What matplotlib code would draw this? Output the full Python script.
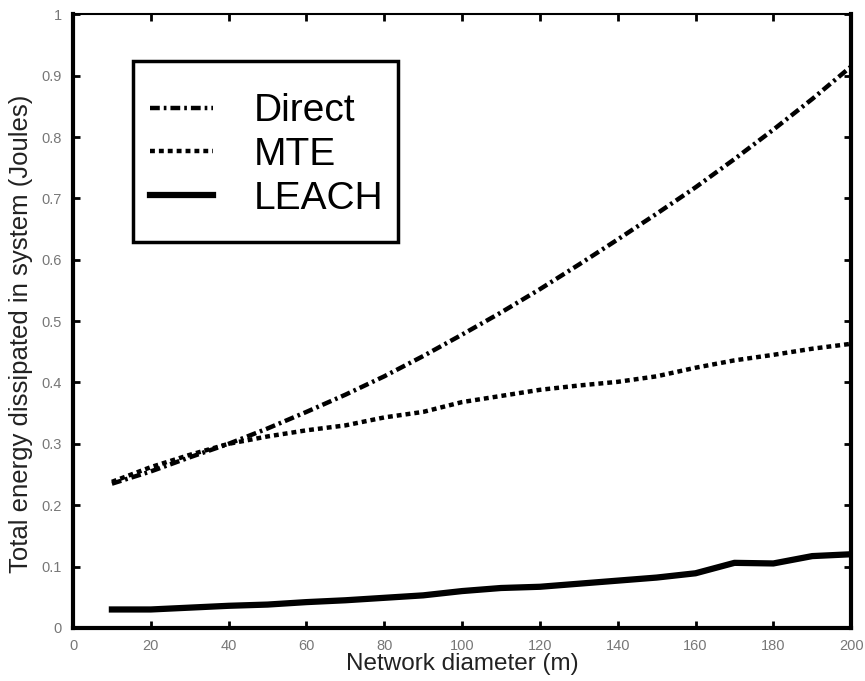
import matplotlib
matplotlib.use('Agg')
import matplotlib.pyplot as plt
from matplotlib.patches import Rectangle

plt.rcParams['font.family'] = ['Liberation Sans', 'DejaVu Sans']

# network diameter (m)
diameter = [10, 20, 30, 40, 50, 60, 70, 80, 90, 100, 110, 120, 130, 140, 150, 160, 170, 180, 190, 200]

direct = [0.235, 0.255, 0.278, 0.300, 0.325, 0.352, 0.380, 0.410, 0.443, 0.478, 0.514, 0.552, 0.592, 0.633,
          0.675, 0.718, 0.764, 0.812, 0.862, 0.915]
mte = [0.238, 0.262, 0.282, 0.300, 0.312, 0.322, 0.330, 0.343, 0.352, 0.368, 0.378, 0.388, 0.395, 0.401,
       0.410, 0.424, 0.436, 0.445, 0.455, 0.463]
leach = [0.030, 0.030, 0.033, 0.036, 0.038, 0.042, 0.045, 0.049, 0.053, 0.060, 0.065, 0.067, 0.072, 0.077,
         0.082, 0.089, 0.106, 0.105, 0.117, 0.120]

fig = plt.figure(figsize=(8.65, 6.81), dpi=100)
ax = fig.add_axes([0.0844, 0.078, 0.8996, 0.901])

ax.plot(diameter, direct, color='black', linestyle=(0, (2.2, 0.9, 0.6, 0.9)), linewidth=3.2,
        dash_capstyle='butt', label='Direct')
ax.plot(diameter, mte, color='black', linestyle=(0, (1.1, 0.9)), linewidth=3.2,
        dash_capstyle='butt', label='MTE')
ax.plot(diameter, leach, color='black', linestyle='-', linewidth=4.5, label='LEACH')

ax.set_xlim(0, 200)
ax.set_ylim(0, 1)
ax.set_xticks(range(0, 201, 20))
ax.set_yticks([0, 0.1, 0.2, 0.3, 0.4, 0.5, 0.6, 0.7, 0.8, 0.9, 1])
ax.set_yticklabels(['0', '0.1', '0.2', '0.3', '0.4', '0.5', '0.6', '0.7', '0.8', '0.9', '1'])
ax.tick_params(direction='in', length=5, width=2, labelsize=10.5, labelcolor='#777777',
               top=True, right=True, pad=8)

for side in ['left', 'bottom', 'right']:
    ax.spines[side].set_linewidth(3)
ax.spines['top'].set_linewidth(1.5)

ax.set_xlabel('Network diameter (m)', fontsize=17.5, labelpad=0, color='#222222')
ax.set_ylabel('Total energy dissipated in system (Joules)', fontsize=18.5, color='#222222')
ax.yaxis.set_label_coords(-0.052, 0.48)

# legend box (frame drawn separately so it can be taller than the entries)
ax.add_patch(Rectangle((0.0771, 0.6287), 0.3406, 0.2948, transform=ax.transAxes,
                       facecolor='white', edgecolor='black', linewidth=2.5, zorder=4))
leg = ax.legend(loc='upper left', bbox_to_anchor=(0.077, 0.9), fontsize=28, handlelength=1.6,
                borderpad=0.45, labelspacing=0.2, handletextpad=1.05, borderaxespad=0,
                frameon=False)
leg.set_zorder(5)

plt.savefig('out.png')
